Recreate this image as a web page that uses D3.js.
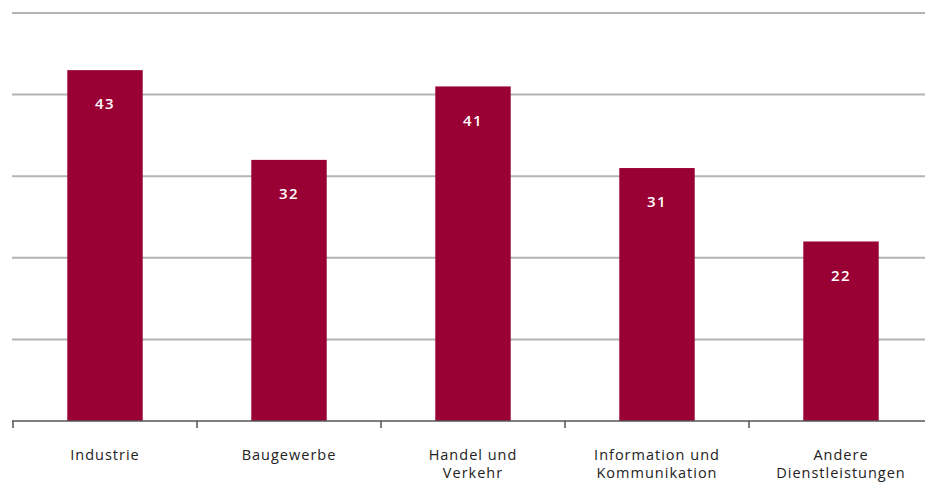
<!DOCTYPE html>
<html>
<head>
<meta charset="utf-8">
<script src="https://cdn.jsdelivr.net/npm/d3@7"></script>
<style>
  html, body { margin: 0; padding: 0; background: #fff; }
  svg { display: block; }
  text { font-family: "Open Sans", "Noto Sans", sans-serif; }
</style>
</head>
<body>
<svg id="chart" width="925" height="485"></svg>
<script>
// Sectors and their values
const categories = [
  ["Industrie"],
  ["Baugewerbe"],
  ["Handel und", "Verkehr"],
  ["Information und", "Kommunikation"],
  ["Andere", "Dienstleistungen"]
];
const values = [43, 32, 41, 31, 22];
const gridTicks = [10, 20, 30, 40, 50];

const svg = d3.select("#chart");
const width = 925;

const x = d3.scaleBand()
  .domain(d3.range(categories.length))
  .range([13, 933])
  .paddingInner(0.59)
  .paddingOuter(0.295);

const y = d3.scaleLinear().domain([0, 50]).range([421, 13]);

// Horizontal gridlines
svg.append("g")
  .selectAll("line")
  .data(gridTicks)
  .join("line")
  .attr("x1", 12)
  .attr("x2", width)
  .attr("y1", d => y(d))
  .attr("y2", d => y(d))
  .attr("stroke", "#b4b4b4")
  .attr("stroke-width", 2);

// Bars
const barColor = "#990033";
svg.append("g")
  .selectAll("rect")
  .data(values)
  .join("rect")
  .attr("x", (d, i) => x(i))
  .attr("width", x.bandwidth())
  .attr("y", d => y(d))
  .attr("height", d => y(0) - y(d))
  .attr("fill", barColor);

// Value labels inside bars
svg.append("g")
  .selectAll("text")
  .data(values)
  .join("text")
  .attr("x", (d, i) => x(i) + x.bandwidth() / 2)
  .attr("y", d => y(d) + 34)
  .attr("dy", "0.35em")
  .attr("text-anchor", "middle")
  .attr("fill", "#fff")
  .attr("font-size", 15)
  .attr("font-weight", 600)
  .attr("letter-spacing", 1.5)
  .text(d => d);

// Category axis: baseline with ticks on the band boundaries
const axis = svg.append("g");
axis.append("line")
  .attr("x1", 12)
  .attr("x2", width)
  .attr("y1", y(0))
  .attr("y2", y(0))
  .attr("stroke", "#555")
  .attr("stroke-width", 1.5);

const step = x.step();
const boundaries = d3.range(categories.length).map(i => x(i) - step * x.paddingInner() / 2);
axis.selectAll("line.tick")
  .data(boundaries)
  .join("line")
  .attr("class", "tick")
  .attr("x1", d => d)
  .attr("x2", d => d)
  .attr("y1", y(0))
  .attr("y2", y(0) + 7)
  .attr("stroke", "#555")
  .attr("stroke-width", 1.5);

// Category labels
const labels = axis.selectAll("text.cat")
  .data(categories)
  .join("text")
  .attr("class", "cat")
  .attr("x", (d, i) => x(i) + x.bandwidth() / 2)
  .attr("y", 455)
  .attr("dy", "0.35em")
  .attr("text-anchor", "middle")
  .attr("fill", "#222")
  .attr("font-size", 14.5)
  .attr("letter-spacing", 1.0);

labels.selectAll("tspan")
  .data(d => d)
  .join("tspan")
  .attr("x", function () { return d3.select(this.parentNode).attr("x"); })
  .attr("dy", (d, i) => i === 0 ? "0.35em" : "1.25em")
  .text(d => d);
</script>
</body>
</html>
